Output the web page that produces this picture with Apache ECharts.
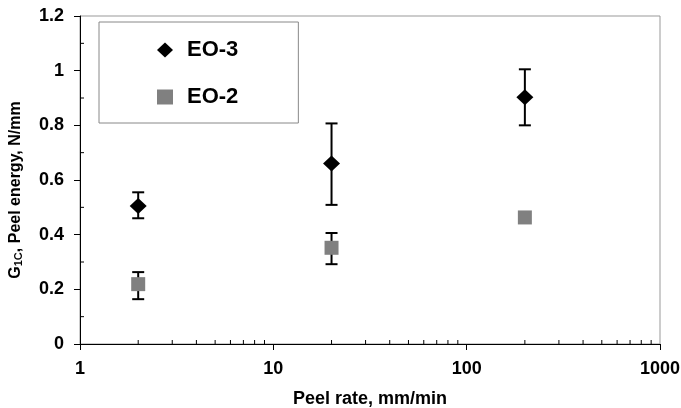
<!DOCTYPE html>
<html>
<head>
<meta charset="utf-8">
<script src="https://cdn.jsdelivr.net/npm/echarts@6/dist/echarts.min.js"></script>
<style>
  html, body { margin: 0; padding: 0; background: #fff; }
  #chart { width: 681px; height: 408px; }
</style>
</head>
<body>
<div id="chart"></div>
<script>
// peel rate (mm/min)
const rates = [2, 20, 200];
// EO-3: mean, low, high
const eo3 = [0.505, 0.66, 0.903];
const eo3Low = [0.46, 0.509, 0.80];
const eo3High = [0.555, 0.807, 1.005];
// EO-2: mean, low, high
const eo2 = [0.219, 0.352, 0.463];
const eo2Low = [0.164, 0.292, 0.463];
const eo2High = [0.263, 0.406, 0.463];
// minor tick positions
const xMinor = [2, 3, 4, 5, 6, 7, 8, 9, 20, 30, 40, 50, 60, 70, 80, 90, 200, 300, 400, 500, 600, 700, 800, 900];
const yMinor = [0.1, 0.3, 0.5, 0.7, 0.9, 1.1];

const font = '"Liberation Sans", Arial, sans-serif';

function errBars(color) {
  return function (params, api) {
    const x = api.value(0);
    const lo = api.coord([x, api.value(1)]);
    const hi = api.coord([x, api.value(2)]);
    if (Math.abs(hi[1] - lo[1]) < 1) return null;
    const w = 6;
    const style = { stroke: color, lineWidth: 2 };
    return {
      type: 'group',
      children: [
        { type: 'line', shape: { x1: lo[0], y1: lo[1], x2: hi[0], y2: hi[1] }, style },
        { type: 'line', shape: { x1: lo[0] - w, y1: lo[1], x2: lo[0] + w, y2: lo[1] }, style },
        { type: 'line', shape: { x1: hi[0] - w, y1: hi[1], x2: hi[0] + w, y2: hi[1] }, style }
      ]
    };
  };
}

const chart = echarts.init(document.getElementById('chart'));
chart.setOption({
  animation: false,
  grid: {
    left: 80, right: 21, top: 16, bottom: 64,
    outerBoundsMode: 'none',
    show: true, borderColor: '#999', borderWidth: 1
  },
  legend: {
    data: ['EO-3', 'EO-2'],
    orient: 'vertical',
    left: 99, top: 22,
    padding: [16, 60, 14, 58],
    itemGap: 23,
    itemWidth: 16, itemHeight: 15,
    borderColor: '#888', borderWidth: 1,
    backgroundColor: '#fff',
    textStyle: { fontFamily: font, fontWeight: 'bold', fontSize: 22, color: '#000', lineHeight: 24, padding: [0, 0, 0, 9] }
  },
  xAxis: {
    type: 'log', logBase: 10, min: 1, max: 1000,
    name: 'Peel rate, mm/min',
    nameLocation: 'middle', nameGap: 46,
    nameTextStyle: { fontFamily: font, fontWeight: 'bold', fontSize: 18, color: '#000' },
    axisLine: { lineStyle: { color: '#000', width: 1 } },
    axisTick: { length: 6, lineStyle: { color: '#000' } },
    axisLabel: {
      fontFamily: font, fontWeight: 'bold', fontSize: 18, color: '#000', margin: 16,
      formatter: v => String(v)
    },
    splitLine: { show: false }
  },
  yAxis: {
    type: 'value', min: 0, max: 1.2, interval: 0.2,
    name: '{a|G}{s|1C}{a|, Peel energy, N/mm}',
    nameLocation: 'middle', nameGap: 56,
    nameTextStyle: {
      padding: [0, 20, 0, 0],
      rich: {
        a: { fontFamily: font, fontWeight: 'bold', fontSize: 16, color: '#000' },
        s: { fontFamily: font, fontWeight: 'bold', fontSize: 11, color: '#000', verticalAlign: 'bottom', padding: [6, 0, 0, 0] }
      }
    },
    axisLine: { show: true, lineStyle: { color: '#000', width: 1 } },
    axisTick: { show: true, length: 6, lineStyle: { color: '#000' } },
    axisLabel: { fontFamily: font, fontWeight: 'bold', fontSize: 18, color: '#000', margin: 16 },
    splitLine: { show: false }
  },
  series: [
    {
      name: 'minor-x', type: 'custom', silent: true, clip: false,
      data: xMinor.map(v => [v, 0]),
      renderItem: function (params, api) {
        const p = api.coord([api.value(0), 0]);
        return { type: 'line', shape: { x1: p[0], y1: p[1], x2: p[0], y2: p[1] - 4 }, style: { stroke: '#000', lineWidth: 1 } };
      }
    },
    {
      name: 'minor-y', type: 'custom', silent: true, clip: false,
      data: yMinor.map(v => [1, v]),
      renderItem: function (params, api) {
        const p = api.coord([1, api.value(1)]);
        return { type: 'line', shape: { x1: p[0], y1: p[1], x2: p[0] + 4, y2: p[1] }, style: { stroke: '#000', lineWidth: 1 } };
      }
    },
    {
      name: 'EO-3 err', type: 'custom', silent: true,
      data: rates.map((r, i) => [r, eo3Low[i], eo3High[i]]),
      renderItem: errBars('#000'),
      z: 3
    },
    {
      name: 'EO-2 err', type: 'custom', silent: true,
      data: rates.map((r, i) => [r, eo2Low[i], eo2High[i]]),
      renderItem: errBars('#000'),
      z: 3
    },
    {
      name: 'EO-3', type: 'scatter',
      symbol: 'diamond', symbolSize: [17, 16],
      itemStyle: { color: '#000', opacity: 1 },
      data: rates.map((r, i) => [r, eo3[i]]),
      z: 4
    },
    {
      name: 'EO-2', type: 'scatter',
      symbol: 'rect', symbolSize: 14,
      itemStyle: { color: '#808080', opacity: 1 },
      data: rates.map((r, i) => [r, eo2[i]]),
      z: 4
    }
  ]
});
</script>
</body>
</html>
